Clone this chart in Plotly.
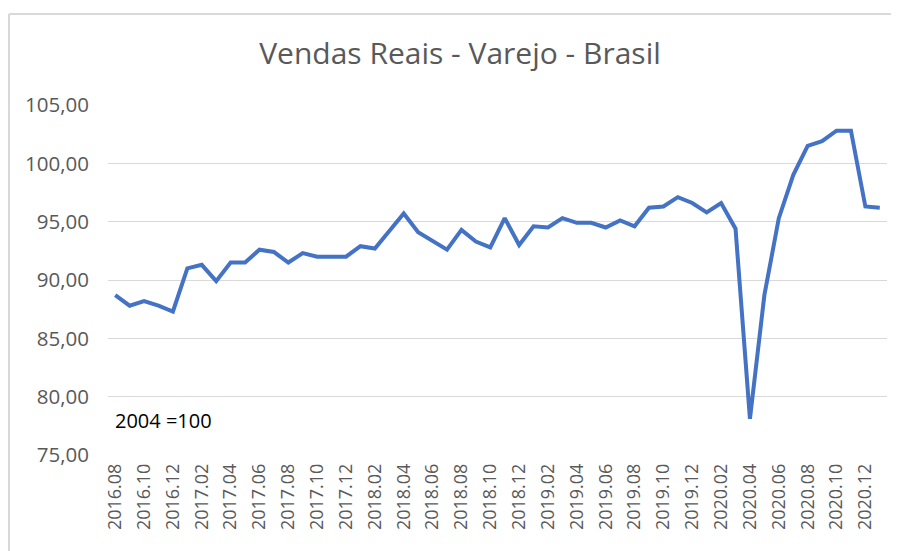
import plotly.graph_objects as go

months = [
    "2016.08", "2016.09", "2016.10", "2016.11", "2016.12",
    "2017.01", "2017.02", "2017.03", "2017.04", "2017.05", "2017.06",
    "2017.07", "2017.08", "2017.09", "2017.10", "2017.11", "2017.12",
    "2018.01", "2018.02", "2018.03", "2018.04", "2018.05", "2018.06",
    "2018.07", "2018.08", "2018.09", "2018.10", "2018.11", "2018.12",
    "2019.01", "2019.02", "2019.03", "2019.04", "2019.05", "2019.06",
    "2019.07", "2019.08", "2019.09", "2019.10", "2019.11", "2019.12",
    "2020.01", "2020.02", "2020.03", "2020.04", "2020.05", "2020.06",
    "2020.07", "2020.08", "2020.09", "2020.10", "2020.11", "2020.12",
    "2021.01",
]

vendas = [
    88.7, 87.8, 88.2, 87.8, 87.3,
    91.0, 91.3, 89.9, 91.5, 91.5, 92.6,
    92.4, 91.5, 92.3, 92.0, 92.0, 92.0,
    92.9, 92.7, 94.2, 95.7, 94.1, 93.3,
    92.6, 94.3, 93.3, 92.8, 95.3, 93.0,
    94.6, 94.5, 95.3, 94.9, 94.9, 94.5,
    95.1, 94.6, 96.2, 96.3, 97.1, 96.6,
    95.8, 96.6, 94.4, 78.1, 88.7, 95.3,
    99.0, 101.5, 101.9, 102.8, 102.8, 96.3,
    96.2,
]

tick_labels = months[0:53:2]
y_ticks = [75, 80, 85, 90, 95, 100, 105]

FONT = "Open Sans"
GRAY = "#595959"

# page body has an 8px margin: work in figure coordinates
OFF = 8
W, H = 899 - OFF, 551 - OFF
L, R, T, B = 108 - OFF, 12, 105 - OFF, 96
PW, PH = W - L - R, H - T - B

fig = go.Figure()
fig.add_trace(go.Scatter(
    x=months, y=vendas, mode="lines",
    line=dict(color="#4472C4", width=4),
    hoverinfo="x+y", showlegend=False,
))

fig.update_layout(
    width=W, height=H,
    margin=dict(l=L, r=R, t=T, b=B),
    paper_bgcolor="white", plot_bgcolor="white",
    separators=",.",
    font=dict(family=FONT, color=GRAY),
    title=dict(
        text="Vendas Reais - Varejo - Brasil",
        x=(460 - OFF) / W, xanchor="center", xref="container",
        y=1 - (53 - OFF) / H, yanchor="middle", yref="container",
        font=dict(family=FONT, size=30, color=GRAY),
    ),
    xaxis=dict(
        type="category",
        categoryorder="array", categoryarray=months,
        range=[-0.5, len(months) - 0.5],
        tickmode="array", tickvals=tick_labels, ticktext=tick_labels,
        tickangle=-90,
        tickfont=dict(family=FONT, size=18, color=GRAY),
        showgrid=False, showline=False, zeroline=False,
        ticks="", ticklabelstandoff=4,
    ),
    yaxis=dict(
        range=[75, 105],
        tickmode="array", tickvals=y_ticks,
        tickformat=".2f",
        tickfont=dict(family=FONT, size=20.5, color=GRAY),
        showgrid=True, gridcolor="#d9d9d9", gridwidth=1.3,
        zeroline=False, showline=False,
        ticks="", ticklabelstandoff=18,
    ),
    annotations=[dict(
        text="2004 =100", x=5 / PW, xref="paper", xanchor="left",
        y=77.95, yref="y", yanchor="middle", showarrow=False,
        font=dict(family=FONT, size=20, color="black"),
    )],
    shapes=[
        dict(type="line", xref="paper", yref="paper",
             x0=(1 - L) / PW, x1=(W - L) / PW,
             y0=(H - B - 6) / PH, y1=(H - B - 6) / PH,
             line=dict(color="#d9d9d9", width=2)),
        dict(type="line", xref="paper", yref="paper",
             x0=(1 - L) / PW, x1=(1 - L) / PW,
             y0=(H - B - 6) / PH, y1=-B / PH,
             line=dict(color="#d9d9d9", width=2)),
    ],
)

fig.write_html("out.html")
